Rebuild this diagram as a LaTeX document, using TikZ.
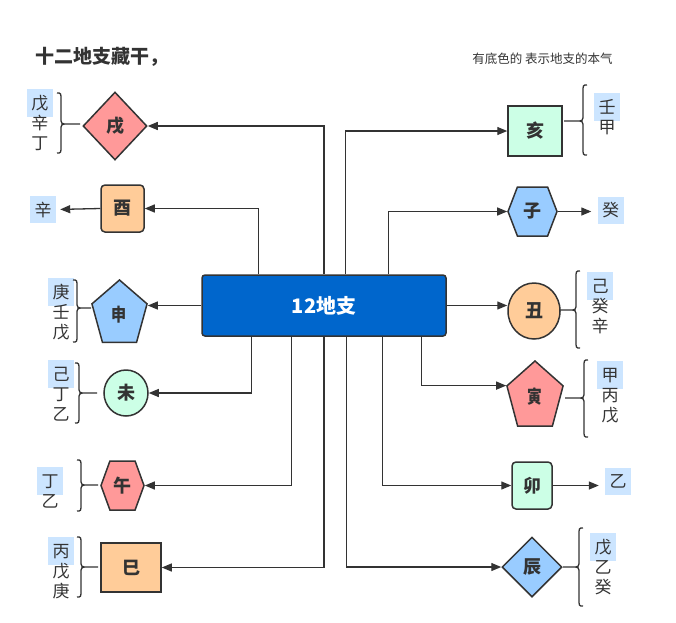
\documentclass[tikz,border=0pt]{standalone}
\usepackage{fontspec}
\setmainfont{Noto Sans CJK SC}
\usetikzlibrary{shapes.geometric,shapes.symbols,arrows.meta}
\definecolor{xian}{HTML}{333333}
\definecolor{hong}{HTML}{FF9999}
\definecolor{cheng}{HTML}{FFCC99}
\definecolor{lv}{HTML}{CCFFE6}
\definecolor{lan}{HTML}{99CCFF}
\definecolor{shenlan}{HTML}{0066CC}
\definecolor{dise}{HTML}{CCE5FF}
\newcommand{\benqi}[1]{{\setlength{\fboxsep}{0pt}\smash{\colorbox{dise}{\makebox[26pt]{\rule[-7.5pt]{0pt}{28pt}#1}}}}\rule{0pt}{15pt}}

\begin{document}
\begin{tikzpicture}[x=1pt, y=-1pt,
zhi/.style={draw=xian, line width=1.5pt, text=xian, inner sep=0pt, font=\fontsize{18}{18}\selectfont\bfseries},
lian/.style={draw=xian, line width=1.3pt, -{Triangle[length=10pt,width=8pt]}},
gan/.style={align=center, text=xian, inner sep=0pt, font=\fontsize{17}{20}\selectfont},
dan/.style={fill=dise, text=xian, minimum width=26pt, minimum height=27pt, inner sep=0pt, font=\fontsize{17}{17}\selectfont},
kuo/.style={draw=xian, line width=1.3pt}]
\useasboundingbox (0,0) rectangle (676,622);

\node[anchor=west, text=xian, font=\fontsize{19}{19}\selectfont\bfseries] (biaoti) at (32,57) {十二地支藏干，};
\node[text=xian, font=\fontsize{12.5}{12.5}\selectfont] (shuoming) at (542.5,59) {有底色的 表示地支的本气};

\node[zhi, rounded corners=3pt, fill=shenlan, minimum width=244pt, minimum height=61pt, text=white, font=\fontsize{20}{20}\selectfont\bfseries] (dizhi) at (324,305.5) {12地支};

\node[zhi, diamond, fill=hong, minimum width=64pt, minimum height=68pt] (xu) at (115,126) {戌};
\node[zhi, rounded corners=4pt, fill=cheng, minimum width=43pt, minimum height=47pt] (you) at (122.5,208.5) {酉};
\node[zhi, regular polygon, regular polygon sides=5, minimum size=69pt, xscale=.84, transform shape, fill=lan] (shen) at (119.5,314.5) {申};
\node[zhi, ellipse, fill=lv, minimum width=44pt, minimum height=46pt] (wei) at (126,393) {未};
\node[zhi, signal, signal to=east and west, signal pointer angle=140, fill=hong, minimum width=43pt, minimum height=49pt] (wu) at (122.5,485.5) {午};
\node[zhi, fill=cheng, minimum width=60pt, minimum height=49pt] (si) at (131,567.5) {巳};

\node[zhi, fill=lv, minimum width=54pt, minimum height=50pt] (hai) at (535,131) {亥};
\node[zhi, signal, signal to=east and west, signal pointer angle=138, fill=lan, minimum width=49pt, minimum height=49pt] (zi) at (532.5,211.5) {子};
\node[zhi, ellipse, fill=cheng, minimum width=52pt, minimum height=56pt] (chou) at (534,311) {丑};
\node[zhi, regular polygon, regular polygon sides=5, minimum size=72pt, xscale=.82, transform shape, fill=hong] (yin) at (535,397) {寅};
\node[zhi, rounded corners=4pt, fill=lv, minimum width=40pt, minimum height=47pt] (mao) at (532,485.5) {卯};
\node[zhi, diamond, fill=lan, minimum width=60pt, minimum height=60pt] (chen) at (532,567) {辰};

\node[dan] (xin) at (43,209.5) {辛};
\node[dan] (gui) at (610.5,210.5) {癸};
\node[dan] (yi) at (618,481) {乙};

\node[gan] (xu-gan) at (40,122.5) {\benqi{戊}\\辛\\丁};
\node[gan] (shen-gan) at (61,312) {\benqi{庚}\\壬\\戊};
\node[gan] (wei-gan) at (61,393) {\benqi{己}\\丁\\乙};
\node[gan] (wu-gan) at (50,490.5) {\benqi{丁}\\乙};
\node[gan] (si-gan) at (61,570.5) {\benqi{丙}\\戊\\庚};
\node[gan] (hai-gan) at (607,117) {\benqi{壬}\\甲};
\node[gan] (chou-gan) at (600,306) {\benqi{己}\\癸\\辛};
\node[gan] (yin-gan) at (610,394.5) {\benqi{甲}\\丙\\戊};
\node[gan] (chen-gan) at (603,567) {\benqi{戊}\\乙\\癸};

\draw[lian] (dizhi.north) |- (xu.east);
\draw[lian] ([xshift=57pt]dizhi.north west) |- (you.east);
\draw[lian] (dizhi.west) -- (dizhi.west -| shen.corner 5);
\draw[lian] ([xshift=50pt]dizhi.south west) |- (wei.east);
\draw[lian] ([xshift=90pt]dizhi.south west) |- (wu.east);
\draw[lian] (dizhi.south) |- (si.east);
\draw[lian] ([xshift=144pt]dizhi.north west) |- (hai.west);
\draw[lian] ([xshift=187pt]dizhi.north west) |- (zi.west);
\draw[lian] (dizhi.east) -- (dizhi.east -| chou.west);
\draw[lian] ([xshift=220pt]dizhi.south west) |- (yin.corner 2);
\draw[lian] ([xshift=181pt]dizhi.south west) |- (mao.west);
\draw[lian] ([xshift=145pt]dizhi.south west) |- (chen.west);
\draw[lian, shorten >=4pt] (you.west) -- (xin.east);
\draw[lian, shorten >=6pt] (zi.east) -- (zi.east -| gui.west);
\draw[lian, shorten >=6pt] (mao.east) -- (mao.east -| yi.west);

\foreach \xa/\ya/\ym/\yb/\xt in {57/93/124/153/80, 73/280/308/342/91, 75/363/393/423/97, 77/460/485/511/98, 77/537/567/597/98}
  \draw[kuo] (\xa,\ya) .. controls (\xa+4,\ya) .. (\xa+4,\ya+7) -- (\xa+4,\ym-7) .. controls (\xa+4,\ym) .. (\xa+11,\ym) -- (\xt,\ym)
    (\xa+11,\ym) .. controls (\xa+4,\ym) .. (\xa+4,\ym+7) -- (\xa+4,\yb-7) .. controls (\xa+4,\yb) .. (\xa,\yb);
\foreach \xa/\ya/\ym/\yb/\xt in {587/85/121/155/564, 580/271/310/348/560, 588/360/398/437/565, 583/528/567/606/563}
  \draw[kuo] (\xa,\ya) .. controls (\xa-4,\ya) .. (\xa-4,\ya+7) -- (\xa-4,\ym-7) .. controls (\xa-4,\ym) .. (\xa-11,\ym) -- (\xt,\ym)
    (\xa-11,\ym) .. controls (\xa-4,\ym) .. (\xa-4,\ym+7) -- (\xa-4,\yb-7) .. controls (\xa-4,\yb) .. (\xa,\yb);
\end{tikzpicture}
\end{document}
